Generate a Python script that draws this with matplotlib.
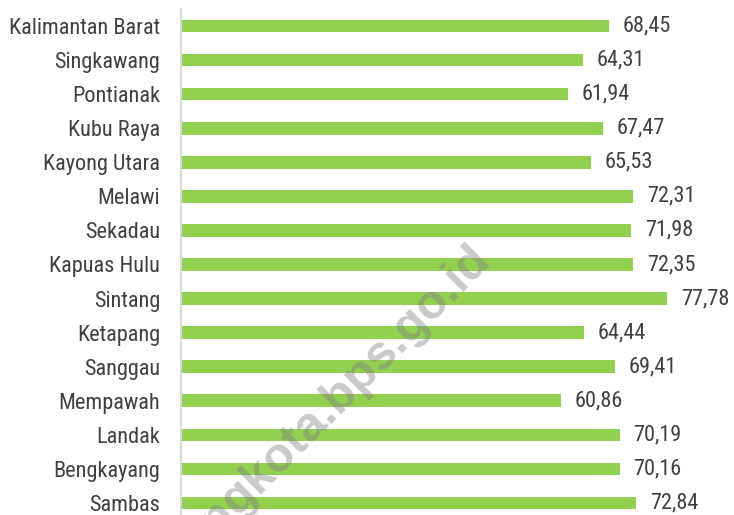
import numpy as np
import matplotlib.pyplot as plt

regions = ["Kalimantan Barat", "Singkawang", "Pontianak", "Kubu Raya", "Kayong Utara",
           "Melawi", "Sekadau", "Kapuas Hulu", "Sintang", "Ketapang", "Sanggau",
           "Mempawah", "Landak", "Bengkayang", "Sambas"]
values = [68.45, 64.31, 61.94, 67.47, 65.53, 72.31, 71.98, 72.35, 77.78, 64.44,
          69.41, 60.86, 70.19, 70.16, 72.84]

plt.rcParams['font.family'] = ['Roboto Condensed', 'DejaVu Sans']

fig = plt.figure(figsize=(7.34, 5.15), dpi=100)
ax = fig.add_axes([181 / 734, 1 - 520 / 515, 1 - 181 / 734, 511 / 515])

y = np.arange(len(regions))
ax.barh(y, values, height=0.37, color="#92d050")
ax.set_ylim(len(regions) - 0.5, -0.5)
ax.set_xlim(0, 553 / 6.25)

ax.set_yticks(y)
ax.set_yticklabels(regions, fontsize=16, color="#404040")
ax.tick_params(axis="y", length=0, pad=15)
ax.set_xticks([])
for s in ["top", "right", "bottom"]:
    ax.spines[s].set_visible(False)
ax.spines["left"].set_color("#d9d9d9")
ax.spines["left"].set_linewidth(1.5)

for yi, v in zip(y, values):
    ax.text(v + 2.2, yi, f"{v:.2f}".replace(".", ","), va="center", ha="left",
            fontsize=16, color="#404040")

# watermark
fig.text(492 / 734, 1 - 262 / 515, "singkawangkota.bps.go.id", rotation=45,
         rotation_mode="anchor", ha="right", va="baseline", fontsize=35,
         fontweight="bold", color="#808080", alpha=0.42, family="Liberation Sans")

fig.savefig("out.png", dpi=100)
